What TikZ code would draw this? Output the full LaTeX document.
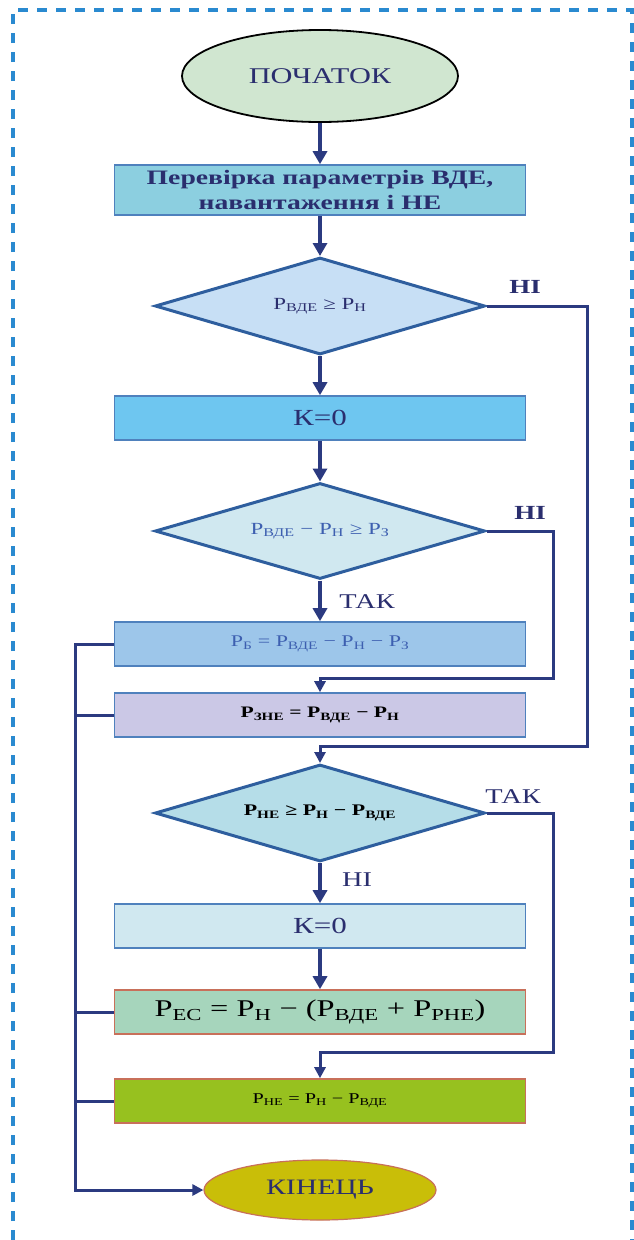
\documentclass[tikz,border=0pt]{standalone}
\usepackage{fontspec}
\setmainfont{Liberation Serif}[FakeStretch=1.35]
\usetikzlibrary{shapes.geometric,arrows.meta}
\newcommand\Pw[1]{P\textsubscript{#1}}
\definecolor{navy}{HTML}{2A2E6E}
\definecolor{conn}{HTML}{2B3A80}
\definecolor{boxline}{HTML}{4F81BD}
\definecolor{dline}{HTML}{2E5E9E}
\definecolor{frame}{HTML}{2A8AD0}
\definecolor{fstart}{HTML}{D0E6D0}
\definecolor{fbox1}{HTML}{8CCFE0}
\definecolor{fd1}{HTML}{C7DFF5}
\definecolor{fk1}{HTML}{6EC6F0}
\definecolor{fd2}{HTML}{D0E8F0}
\definecolor{fpb}{HTML}{9DC6EA}
\definecolor{fpz}{HTML}{CBC8E6}
\definecolor{fd3}{HTML}{B5DDE8}
\definecolor{fk2}{HTML}{D0E8F0}
\definecolor{fpec}{HTML}{A6D5BC}
\definecolor{fpne}{HTML}{97C11F}
\definecolor{fend}{HTML}{C9BE08}
\definecolor{redline}{HTML}{C8705A}
\definecolor{pbtext}{HTML}{3D5FB0}
\begin{document}
\begin{tikzpicture}[x=1pt,y=-1pt,
  procbox/.style={rectangle,draw=boxline,line width=1.6pt,minimum width=411pt,minimum height=44pt,inner sep=0pt,text=navy},
  decision/.style={diamond,shape aspect=3.4,draw=dline,line width=3pt,minimum width=330pt,minimum height=97pt,inner sep=0pt,text=navy},
  mainarrow/.style={draw=conn,line width=4.5pt,-{Triangle[length=13pt,width=14pt]}},
  looparrow/.style={draw=conn,line width=3pt,-{Triangle[length=11pt,width=11pt]}},
  loopline/.style={draw=conn,line width=3pt},
  lbl/.style={text=navy,font=\fontsize{21}{24}\selectfont,inner sep=0pt}
]
\useasboundingbox (0,0) rectangle (634,1240);
\draw[frame,line width=3.5pt,dash pattern=on 10pt off 9pt] (13,1240) -- (13,10) -- (632,10) -- (632,1240);

\node[ellipse,draw=black,line width=1.8pt,fill=fstart,minimum width=276pt,minimum height=92pt,text=navy,font=\fontsize{22.5}{26}\selectfont] (start) at (320,76) {ПОЧАТОК};
\node[procbox,fill=fbox1,minimum height=50pt,align=center,font=\bfseries\fontsize{20.5}{25}\selectfont] (box1) at (320,190) {Перевірка параметрів ВДЕ,\\навантаження і НЕ};
\node[decision,fill=fd1,font=\fontsize{17}{20}\selectfont] (d1) at (320,306) {\Pw{ВДЕ} ≥ \Pw{Н}};
\node[procbox,fill=fk1,font=\fontsize{23}{26}\selectfont] (k1) at (320,418) {К=0};
\node[decision,fill=fd2,minimum height=96pt,text=pbtext,font=\fontsize{17}{20}\selectfont] (d2) at (320,531) {\Pw{ВДЕ} − \Pw{Н} ≥ \Pw{З}};
\node[procbox,fill=fpb,text=pbtext,font=\fontsize{16.3}{20}\selectfont] (pb) at (320,644) {\Pw{Б} = \Pw{ВДЕ} − \Pw{Н} − \Pw{З}};
\node[procbox,fill=fpz,text=black,font=\bfseries\fontsize{16}{20}\selectfont] (pz) at (320,715) {\Pw{ЗНЕ} = \Pw{ВДЕ} − \Pw{Н}};
\node[decision,fill=fd3,text=black,font=\bfseries\fontsize{16.2}{20}\selectfont] (d3) at (320,813) {\Pw{НЕ} ≥ \Pw{Н} − \Pw{ВДЕ}};
\node[procbox,fill=fk2,font=\fontsize{23}{26}\selectfont] (k2) at (320,926) {К=0};
\node[procbox,fill=fpec,draw=redline,text=black,font=\fontsize{24}{28}\selectfont] (pec) at (320,1012) {\Pw{EC} = \Pw{Н} − (\Pw{ВДЕ} + \Pw{РНЕ})};
\node[procbox,fill=fpne,draw=redline,text=black,font=\fontsize{15}{18}\selectfont] (pne) at (320,1101) {\Pw{НЕ} = \Pw{Н} − \Pw{ВДЕ}};
\node[ellipse,draw=redline,line width=1.2pt,fill=fend,minimum width=232pt,minimum height=60pt,text=navy,font=\fontsize{22}{26}\selectfont] (end) at (320,1190) {КІНЕЦЬ};

% main flow
\draw[mainarrow] (start) -- (box1);
\draw[mainarrow] (box1) -- (d1);
\draw[mainarrow] (d1) -- (k1);
\draw[mainarrow] (k1) -- (d2);
\draw[mainarrow] (d2) -- (pb);
\draw[mainarrow] (d3) -- (k2);
\draw[mainarrow] (k2) -- (pec);

% loops
\coordinate (r1) at (587,306);
\coordinate (r1b) at (587,746);
\coordinate (r1c) at (320,746);
\draw[looparrow] (d1.east) -- (r1) -- (r1b) -- (r1c) -- (d3.north);
\coordinate (r2) at (553,531);
\coordinate (r2b) at (553,678);
\coordinate (r2c) at (320,678);
\draw[looparrow] (d2.east) -- (r2) -- (r2b) -- (r2c) -- (pz.north);
\coordinate (r3) at (553,813);
\coordinate (r3b) at (553,1052);
\coordinate (r3c) at (320,1052);
\draw[looparrow] (d3.east) -- (r3) -- (r3b) -- (r3c) -- (pne.north);

% left bus
\coordinate (b1) at (75,644);
\coordinate (b2) at (75,715);
\coordinate (b3) at (75,1012);
\coordinate (b4) at (75,1101);
\coordinate (b5) at (75,1190);
\draw[looparrow] (pb.west) -- (b1) -- (b5) -- (end.west);
\draw[loopline] (pz.west) -- (b2);
\draw[loopline] (pec.west) -- (b3);
\draw[loopline] (pne.west) -- (b4);

% labels
\node[lbl,font=\bfseries\fontsize{20}{23}\selectfont] (l1) at (525,287) {НІ};
\node[lbl,font=\bfseries\fontsize{20}{23}\selectfont] (l2) at (530,513) {НІ};
\node[lbl] (l3) at (367,602) {ТАК};
\node[lbl] (l4) at (513,797) {ТАК};
\node[lbl] (l5) at (357,880) {НІ};
\end{tikzpicture}
\end{document}
